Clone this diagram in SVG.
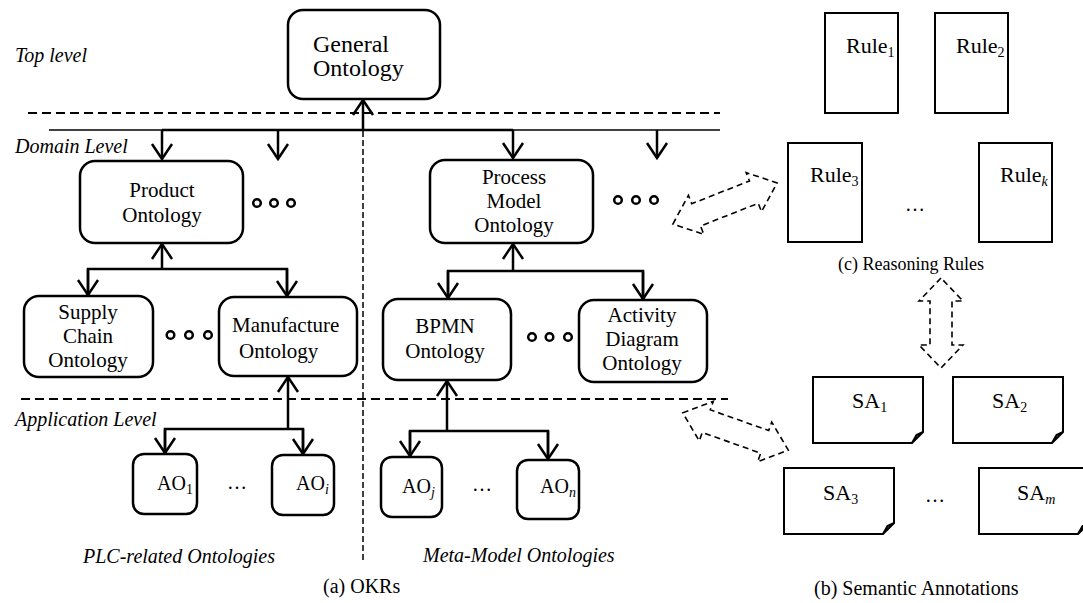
<svg xmlns="http://www.w3.org/2000/svg" width="1083" height="603" viewBox="0 0 1083 603">
<style>
.box{fill:#fff;stroke:#000;stroke-width:2.5}
.doc{fill:#fff;stroke:#000;stroke-width:2}
.t{font-family:"Liberation Serif","Times New Roman",serif;fill:#000}
.n{font-size:21px;text-anchor:middle}
.lv{font-size:20px;font-style:italic}
.m{font-size:20px}
.r{font-size:22px}
.sub{font-size:14px}
.ln{fill:none;stroke:#000;stroke-width:2.5}
.thin{fill:none;stroke:#000;stroke-width:1.5}
.dash{fill:none;stroke:#000;stroke-width:1.8;stroke-dasharray:9 5}
.vdash{fill:none;stroke:#000;stroke-width:1.5;stroke-dasharray:6 3}
.blk{fill:none;stroke:#000;stroke-width:1.6;stroke-dasharray:6 4}
.dot{fill:#fff;stroke:#000;stroke-width:2.5}
</style>
<defs>
<marker id="ah" markerUnits="userSpaceOnUse" viewBox="-18 -12 20 24" markerWidth="20" markerHeight="24" refX="0" refY="0" orient="auto" overflow="visible">
<path d="M-15,-10 L0,0 L-15,10" fill="none" stroke="#000" stroke-width="2.5"/>
</marker>
<polygon id="dbl" points="-56,0 -31,-21 -31,-12 31,-12 31,-21 56,0 31,21 31,12 -31,12 -31,21"/>
<polygon id="dblv" points="0,-45 -22,-22 -11,-22 -11,22 -22,22 0,45 22,22 11,22 11,-22 22,-22"/>
</defs>

<g id="levels">
<text class="t lv" x="15" y="62">Top level</text>
<text class="t lv" x="15" y="153">Domain Level</text>
<text class="t lv" x="15" y="426">Application Level</text>
<text class="t lv" x="83" y="563">PLC-related Ontologies</text>
<text class="t lv" x="423" y="562">Meta-Model Ontologies</text>
<text class="t m" x="323" y="593">(a) OKRs</text>
<text class="t m" x="814" y="595">(b) Semantic Annotations</text>
<text class="t" style="font-size:18px" x="838" y="270">(c) Reasoning Rules</text>
</g>

<g id="connectors">
<line class="dash" x1="28" y1="113" x2="720" y2="113"/>
<line class="dash" x1="21" y1="399" x2="728" y2="399"/>
<line class="vdash" x1="363" y1="131" x2="363" y2="560"/>
<line class="thin" x1="49" y1="130" x2="720" y2="130"/>
<line class="ln" x1="162" y1="130" x2="513" y2="130"/>
<line class="ln" x1="363" y1="130" x2="363" y2="100" marker-end="url(#ah)"/>
<line class="ln" x1="162" y1="130" x2="162" y2="159" marker-end="url(#ah)"/>
<line class="ln" x1="278" y1="130" x2="278" y2="159" marker-end="url(#ah)"/>
<line class="ln" x1="513" y1="130" x2="513" y2="158" marker-end="url(#ah)"/>
<line class="ln" x1="657" y1="130" x2="657" y2="158" marker-end="url(#ah)"/>

<line class="ln" x1="162" y1="269" x2="162" y2="244" marker-end="url(#ah)"/>
<polyline class="ln" points="88,295 88,269 287,269 287,296"/>
<line class="ln" x1="88" y1="269" x2="88" y2="295" marker-end="url(#ah)"/>
<line class="ln" x1="287" y1="269" x2="287" y2="296" marker-end="url(#ah)"/>

<line class="ln" x1="288" y1="429" x2="288" y2="377" marker-end="url(#ah)"/>
<polyline class="ln" points="165,453 165,429 303,429 303,454"/>
<line class="ln" x1="165" y1="429" x2="165" y2="453" marker-end="url(#ah)"/>
<line class="ln" x1="303" y1="429" x2="303" y2="454" marker-end="url(#ah)"/>

<line class="ln" x1="513" y1="271" x2="513" y2="244" marker-end="url(#ah)"/>
<polyline class="ln" points="448,298 448,271 643,271 643,299"/>
<line class="ln" x1="448" y1="271" x2="448" y2="298" marker-end="url(#ah)"/>
<line class="ln" x1="643" y1="271" x2="643" y2="299" marker-end="url(#ah)"/>

<line class="ln" x1="447" y1="431" x2="447" y2="381" marker-end="url(#ah)"/>
<polyline class="ln" points="410,456 410,431 548,431 548,459"/>
<line class="ln" x1="410" y1="431" x2="410" y2="456" marker-end="url(#ah)"/>
<line class="ln" x1="548" y1="431" x2="548" y2="459" marker-end="url(#ah)"/>

<use href="#dbl" class="blk" transform="translate(725,203.5) rotate(-21.5)"/>
<use href="#dbl" class="blk" transform="translate(735.5,431.5) rotate(19.5)"/>
<use href="#dblv" class="blk" transform="translate(941,323)"/>
</g>

<g id="general">
<rect class="box" x="288" y="10" width="152" height="89" rx="15"/>
<text class="t" style="font-size:24px" x="313" y="52">General</text>
<text class="t" style="font-size:24px" x="313" y="76">Ontology</text>
</g>
<g id="product">
<rect class="box" x="80" y="161" width="163" height="82" rx="15"/>
<text class="t n" x="162" y="197">Product</text>
<text class="t n" x="162" y="222">Ontology</text>
</g>
<g id="dots1">
<circle class="dot" cx="257" cy="203" r="3.8"/><circle class="dot" cx="274" cy="203" r="3.8"/><circle class="dot" cx="291" cy="203" r="3.8"/>
</g>
<g id="process">
<rect class="box" x="430" y="160" width="163" height="83" rx="15"/>
<text class="t n" x="514" y="184">Process</text>
<text class="t n" x="514" y="208">Model</text>
<text class="t n" x="514" y="232">Ontology</text>
</g>
<g id="dots2">
<circle class="dot" cx="618" cy="200" r="3.8"/><circle class="dot" cx="636" cy="200" r="3.8"/><circle class="dot" cx="654" cy="200" r="3.8"/>
</g>
<g id="supply">
<rect class="box" x="24" y="296" width="129" height="81" rx="15"/>
<text class="t n" x="88" y="319">Supply</text>
<text class="t n" x="88" y="343">Chain</text>
<text class="t n" x="88" y="367">Ontology</text>
</g>
<g id="dots3">
<circle class="dot" cx="170.5" cy="335" r="3.8"/><circle class="dot" cx="189" cy="335" r="3.8"/><circle class="dot" cx="208" cy="335" r="3.8"/>
</g>
<g id="manufacture">
<rect class="box" x="219" y="297" width="138" height="79" rx="15"/>
<text class="t" style="font-size:21px" x="232" y="332">Manufacture</text>
<text class="t" style="font-size:21px" x="239" y="358">Ontology</text>
</g>
<g id="bpmn">
<rect class="box" x="383" y="299" width="128" height="81" rx="15"/>
<text class="t n" x="445" y="333">BPMN</text>
<text class="t n" x="445" y="358">Ontology</text>
</g>
<g id="dots4">
<circle class="dot" cx="532" cy="337" r="3.8"/><circle class="dot" cx="549.5" cy="337" r="3.8"/><circle class="dot" cx="568" cy="337" r="3.8"/>
</g>
<g id="activity">
<rect class="box" x="579" y="300" width="128" height="82" rx="15"/>
<text class="t n" x="642" y="322">Activity</text>
<text class="t n" x="642" y="346">Diagram</text>
<text class="t n" x="642" y="370">Ontology</text>
</g>

<g id="ao1">
<rect class="box" x="133" y="454" width="64" height="60" rx="11"/>
<text class="t m" x="157" y="490">AO<tspan class="sub" dy="4">1</tspan></text>
</g>
<text class="t m" x="227" y="489">…</text>
<g id="aoi">
<rect class="box" x="272" y="455" width="62" height="60" rx="11"/>
<text class="t m" x="296" y="490">AO<tspan class="sub" dy="4" font-style="italic">i</tspan></text>
</g>
<g id="aoj">
<rect class="box" x="381" y="457" width="61" height="60" rx="11"/>
<text class="t m" x="402" y="493">AO<tspan class="sub" dy="4" font-style="italic">j</tspan></text>
</g>
<text class="t m" x="472" y="491">…</text>
<g id="aon">
<rect class="box" x="517" y="460" width="62" height="59" rx="11"/>
<text class="t m" x="540" y="493">AO<tspan class="sub" dy="4" font-style="italic">n</tspan></text>
</g>

<g id="rule1">
<rect class="doc" x="825" y="13" width="73" height="100"/>
<text class="t r" x="846" y="53">Rule<tspan class="sub" dy="4">1</tspan></text>
</g>
<g id="rule2">
<rect class="doc" x="935" y="13" width="73" height="100"/>
<text class="t r" x="956" y="53">Rule<tspan class="sub" dy="4">2</tspan></text>
</g>
<g id="rule3">
<rect class="doc" x="788" y="143" width="74" height="99"/>
<text class="t r" x="810" y="182">Rule<tspan class="sub" dy="4">3</tspan></text>
</g>
<text class="t m" x="905" y="211">…</text>
<g id="rulek">
<rect class="doc" x="979" y="143" width="73" height="99"/>
<text class="t r" x="1000" y="182">Rule<tspan class="sub" dy="4" font-style="italic">k</tspan></text>
</g>

<g id="sa1">
<path class="doc" d="M813,377 H923 V432 L912,443 H813 Z M912,443 L916.5,435 L923,432"/>
<text class="t r" x="852" y="408">SA<tspan class="sub" dy="4">1</tspan></text>
</g>
<g id="sa2">
<path class="doc" d="M953,377 H1063 V432 L1052,443 H953 Z M1052,443 L1056.5,435 L1063,432"/>
<text class="t r" x="992" y="408">SA<tspan class="sub" dy="4">2</tspan></text>
</g>
<g id="sa3">
<path class="doc" d="M784,468 H894 V523 L883,534 H784 Z M883,534 L887.5,526 L894,523"/>
<text class="t r" x="823" y="500">SA<tspan class="sub" dy="4">3</tspan></text>
</g>
<text class="t m" x="925" y="502">…</text>
<g id="sam">
<path class="doc" d="M979,468 H1089 V523 L1078,534 H979 Z M1078,534 L1082.5,526 L1089,523"/>
<text class="t r" x="1017" y="500">SA<tspan class="sub" dy="4" font-style="italic">m</tspan></text>
</g>
</svg>
